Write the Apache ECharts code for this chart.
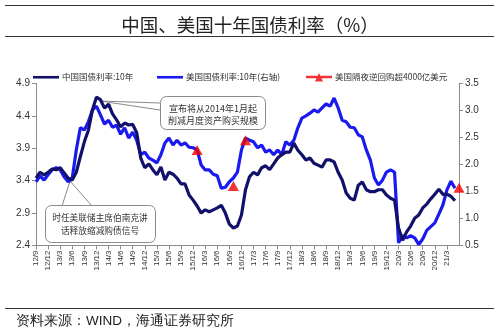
<!DOCTYPE html>
<html>
<head>
<meta charset="utf-8">
<script src="https://cdn.jsdelivr.net/npm/echarts@6/dist/echarts.min.js"></script>
<style>
  html, body { margin: 0; padding: 0; background: #ffffff; }
  #chart { width: 500px; height: 335px; }
</style>
</head>
<body>
<div id="chart"></div>
<script>
// Monthly categories from 2012/9 to 2021/6, labelled "yy/m"
const months = [];
for (let y = 2012, m = 9; y < 2021 || (y === 2021 && m <= 6); ) {
  months.push(String(y % 100) + '/' + m);
  m++;
  if (m > 12) { m = 1; y++; }
}
// last labelled quarter on the axis
const lastTickLabel = '21/3';

// China 10Y government bond yield (%), monthly
const chinaYield = [
  3.44, 3.53, 3.49, 3.53, 3.58, 3.57, 3.60, 3.52, 3.44, 3.41,
  3.53, 3.77, 4.00, 4.18, 4.49, 4.69, 4.65, 4.52, 4.58, 4.43,
  4.34, 4.23, 4.29, 4.26, 4.27, 4.14, 3.75, 3.60, 3.66, 3.57,
  3.49, 3.61, 3.41, 3.53, 3.50, 3.44, 3.35, 3.35, 3.18, 3.10,
  3.01, 2.90, 2.95, 2.92, 2.95, 2.98, 3.02, 2.90, 2.73, 2.67,
  2.70, 2.87, 3.26, 3.46, 3.53, 3.49, 3.60, 3.63, 3.57, 3.66,
  3.75, 3.80, 3.84, 3.84, 3.98, 3.87, 3.80, 3.72, 3.75, 3.67,
  3.64, 3.61, 3.72, 3.72, 3.69, 3.53, 3.41, 3.21, 3.13, 3.10,
  3.33, 3.38, 3.26, 3.23, 3.23, 3.26, 3.26, 3.18, 3.13, 3.10,
  2.67, 2.48, 2.61, 2.70, 2.82, 2.87, 2.98, 3.04, 3.12, 3.19,
  3.27, 3.19, 3.19, 3.16, 3.09, null
];

// US 10Y Treasury yield (%), monthly, right axis
const usYield = [
  1.68, 1.79, 1.71, 1.81, 1.90, 1.94, 1.90, 1.77, 1.68, 1.75,
  2.27, 2.68, 2.64, 2.79, 3.01, 3.08, 2.92, 2.75, 2.82, 2.69,
  2.73, 2.56, 2.68, 2.49, 2.60, 2.45, 2.18, 2.23, 2.12, 2.08,
  2.03, 2.18, 2.40, 2.49, 2.36, 2.45, 2.36, 2.40, 2.32, 2.31,
  2.27, 1.99, 1.90, 1.90, 1.82, 1.79, 1.56, 1.58, 1.68, 1.75,
  1.86, 2.27, 2.49, 2.45, 2.42, 2.31, 2.36, 2.23, 2.27, 2.18,
  2.27, 2.18, 2.42, 2.36, 2.45, 2.68, 2.86, 2.90, 2.95, 3.01,
  2.97, 3.05, 3.12, 3.08, 3.23, 3.05, 2.82, 2.79, 2.69, 2.68,
  2.55, 2.51, 2.27, 2.08, 1.75, 1.62, 1.71, 1.86, 1.90, 1.86,
  0.55, 0.68, 0.64, 0.68, 0.64, 0.52, 0.62, 0.78, 0.85, 0.92,
  1.08, 1.25, 1.53, 1.69, 1.56, null
];

// Months in which US overnight reverse repo exceeded 400 bn USD (category, US yield)
const repoMonths = ['16/1', '16/10', '17/1', '21/6'];
const repoLevels = [2.27, 1.60, 2.45, 1.57];

const leftTicks = { min: 2.4, max: 4.9, step: 0.5 };
const rightTicks = { min: 0.5, max: 3.5, step: 0.5 };

const seriesNames = ['中国国债利率:10年', '美国国债利率:10年(右轴)', '美国隔夜逆回购超4000亿美元'];
const NAVY = '#11116b';
const BLUE = '#1a1af0';
const RED = '#f00000';
const TEXT = '#333333';
const CJK = '"Noto Sans CJK SC", "Liberation Sans", sans-serif';
const LATIN = '"Liberation Sans", Arial, sans-serif';

const chart = echarts.init(document.getElementById('chart'), null, { renderer: 'canvas' });

const lastLabelIdx = months.indexOf(lastTickLabel);
const quarterly = (idx) => idx % 3 === 0 && idx <= lastLabelIdx;

function legendItem(name, left, icon) {
  return {
    data: [{ name: name, icon: icon }],
    top: 73,
    left: left,
    itemWidth: 26,
    itemHeight: 9,
    padding: 0,
    textStyle: { fontSize: 8.5, color: TEXT, fontFamily: CJK, padding: [0, 0, 0, -2] },
    selectedMode: false
  };
}

const lineIcon = 'path://M0,3.2L26,3.2L26,5.8L0,5.8Z';
const triIcon = 'path://M0,3.2L26,3.2L26,5.8L0,5.8Z M9,9L13,0.5L17,9Z';

const option = {
  animation: false,
  backgroundColor: '#ffffff',
  title: {
    text: '中国、美国十年国债利率（%）',
    left: 'center',
    top: 11,
    textStyle: { fontSize: 18.5, fontWeight: 'normal', color: '#222', fontFamily: CJK }
  },
  legend: [
    legendItem(seriesNames[0], 33, lineIcon),
    legendItem(seriesNames[1], 157, lineIcon),
    legendItem(seriesNames[2], 306, triIcon)
  ],
  grid: { left: 36, right: 41, top: 83.5, bottom: 89.5 },
  xAxis: {
    type: 'category',
    data: months,
    boundaryGap: false,
    axisLine: { lineStyle: { color: '#8c8c8c', width: 1 } },
    axisTick: { interval: quarterly, length: 4, lineStyle: { color: '#8c8c8c' } },
    axisLabel: {
      interval: quarterly,
      rotate: 90,
      fontSize: 8,
      color: TEXT,
      fontFamily: LATIN,
      margin: 5
    },
    splitLine: { show: false }
  },
  yAxis: [
    {
      type: 'value',
      min: leftTicks.min,
      max: leftTicks.max,
      interval: leftTicks.step,
      axisLine: { show: true, lineStyle: { color: '#8c8c8c' } },
      axisTick: { show: true, length: 4, lineStyle: { color: '#8c8c8c' } },
      axisLabel: { fontSize: 10, color: TEXT, fontFamily: LATIN, margin: 6,
        formatter: (v) => v.toFixed(1) },
      splitLine: { show: false }
    },
    {
      type: 'value',
      position: 'right',
      min: rightTicks.min,
      max: rightTicks.max,
      interval: rightTicks.step,
      axisLine: { show: true, lineStyle: { color: '#8c8c8c' } },
      axisTick: { show: true, length: 4, lineStyle: { color: '#8c8c8c' } },
      axisLabel: { fontSize: 10, color: TEXT, fontFamily: LATIN, margin: 6,
        formatter: (v) => v.toFixed(1) },
      splitLine: { show: false }
    }
  ],
  series: [
    {
      name: seriesNames[0],
      type: 'line',
      data: chinaYield,
      yAxisIndex: 0,
      showSymbol: false,
      lineStyle: { color: NAVY, width: 3.2 },
      itemStyle: { color: NAVY },
      z: 3
    },
    {
      name: seriesNames[1],
      type: 'line',
      data: usYield,
      yAxisIndex: 1,
      showSymbol: false,
      lineStyle: { color: BLUE, width: 3.2 },
      itemStyle: { color: BLUE },
      z: 2
    },
    {
      name: seriesNames[2],
      type: 'scatter',
      yAxisIndex: 1,
      data: repoMonths.map((m, i) => [m, repoLevels[i]]),
      symbol: 'triangle',
      symbolSize: [11, 10],
      itemStyle: { color: RED },
      z: 5
    }
  ],
  graphic: [
    // header and footer rules
    { type: 'line', shape: { x1: 5, y1: 5.5, x2: 494, y2: 5.5 }, style: { stroke: '#333', lineWidth: 1 } },
    { type: 'line', shape: { x1: 5, y1: 36.5, x2: 494, y2: 36.5 }, style: { stroke: '#333', lineWidth: 1 } },
    { type: 'line', shape: { x1: 5, y1: 308.5, x2: 494, y2: 308.5 }, style: { stroke: '#333', lineWidth: 1 } },
    {
      type: 'text', left: 16, top: 314,
      style: { text: '资料来源：WIND，海通证券研究所', fontSize: 13.5, fill: '#222', font: '13.5px ' + CJK }
    },
    // callout: taper announcement
    {
      type: 'group', z: 10,
      children: [
        { type: 'polyline', shape: { points: [[160, 103], [100, 101], [160, 110]] },
          style: { stroke: '#8a8a8a', fill: null, lineWidth: 1 } },
        { type: 'rect', shape: { x: 160.5, y: 96.5, width: 105, height: 33, r: 6 },
          style: { fill: '#ffffff', stroke: '#8a8a8a', lineWidth: 1 } },
        { type: 'text', x: 213, y: 109, style: { text: '宣布将从2014年1月起', font: '9px ' + CJK,
          fill: TEXT, align: 'center', verticalAlign: 'middle' } },
        { type: 'text', x: 213, y: 121, style: { text: '削减月度资产购买规模', font: '9px ' + CJK,
          fill: TEXT, align: 'center', verticalAlign: 'middle' } }
      ]
    },
    // callout: Bernanke speech
    {
      type: 'group', z: 10,
      children: [
        { type: 'polyline', shape: { points: [[62, 206], [70, 181], [92, 206]] },
          style: { stroke: '#8a8a8a', fill: null, lineWidth: 1 } },
        { type: 'rect', shape: { x: 45.5, y: 205.5, width: 110, height: 37, r: 6 },
          style: { fill: '#ffffff', stroke: '#8a8a8a', lineWidth: 1 } },
        { type: 'text', x: 100, y: 218, style: { text: '时任美联储主席伯南克讲', font: '8.7px ' + CJK,
          fill: TEXT, align: 'center', verticalAlign: 'middle' } },
        { type: 'text', x: 100, y: 231, style: { text: '话释放缩减购债信号', font: '8.7px ' + CJK,
          fill: TEXT, align: 'center', verticalAlign: 'middle' } }
      ]
    }
  ]
};

chart.setOption(option);
</script>
</body>
</html>
